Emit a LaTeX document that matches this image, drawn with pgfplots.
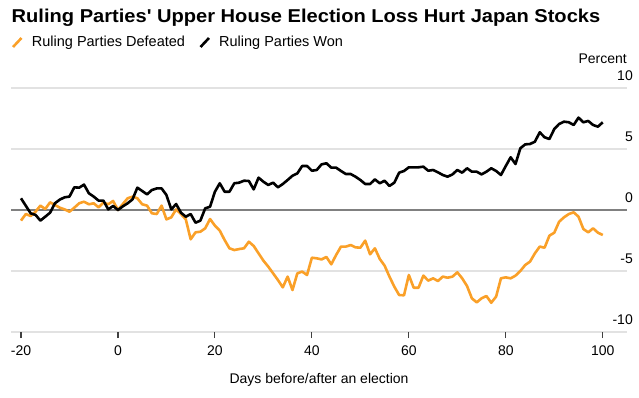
\documentclass[border=0pt]{standalone}
\usepackage{pgfplots}
\pgfplotsset{compat=1.18}
\usepackage{fontspec}
\setmainfont{Liberation Sans}
\definecolor{orng}{RGB}{250,160,40}
\definecolor{gridc}{RGB}{226,226,226}
\definecolor{zeroc}{RGB}{128,128,128}
\begin{document}
\begin{tikzpicture}[x=1pt,y=1pt]
\path[use as bounding box] (0,0) rectangle (639,397);
\node[anchor=base west, inner sep=0pt] at (11.5,374.7) {\scalebox{1.08}[1]{\fontsize{18.6}{20}\selectfont\bfseries Ruling Parties\textquotesingle{} Upper House Election Loss Hurt Japan Stocks}};
\draw[orng, line width=2.6pt] (13,350) -- (21.5,359);
\node[anchor=base west, inner sep=0pt] at (31.7,350.3) {\fontsize{14.5}{16}\selectfont Ruling Parties Defeated};
\draw[black, line width=2.6pt] (200.5,350) -- (209,359);
\node[anchor=base west, inner sep=0pt] at (219,350.3) {\fontsize{14.5}{16}\selectfont Ruling Parties Won};
\node[anchor=base east, inner sep=0pt] at (627,333) {\fontsize{14}{16}\selectfont Percent};
\begin{axis}[at={(11pt,65pt)}, anchor=south west, scale only axis,
  width=616pt, height=244pt,
  xmin=-22.06, xmax=105, ymin=-10, ymax=10,
  axis line style={draw=none},
  xtick={-20,0,20,40,60,80,100},
  xticklabels={-20,0,20,40,60,80,100},
  ytick={-10,-5,0,5,10},
  yticklabels={-10,-5,0,5,10},
  tick align=outside, major tick length=6pt,
  xtick pos=bottom, yticklabel pos=right,
  xtick style={draw=black!75, line width=1.1pt},
  ytick style={draw=none},
  ymajorgrids, major grid style={gridc, line width=1.6pt},
  xticklabel style={anchor=base, inner sep=0pt, yshift=-17pt, font=\fontsize{14}{16}\selectfont},
  yticklabel style={anchor=base east, inner sep=0pt, yshift=7.3pt, font=\fontsize{14}{16}\selectfont},
  xlabel={Days before/after an election},
  xlabel style={anchor=base, inner sep=0pt, at={(axis description cs:0.5,0)}, yshift=-51pt, font=\fontsize{14}{16}\selectfont},
  clip=false,
]
\addplot[zeroc, line width=2pt] coordinates {(-22.06,0) (105,0)};
\addplot[orng, line width=2.6pt, line join=round] coordinates {
(-20,-0.87) (-19,-0.33) (-18,-0.49) (-17,-0.14) (-16,0.36) (-15,0.08) (-14,0.63) (-13,0.41)
(-12,0.19) (-11,0.05) (-10,-0.14) (-9,0.19) (-8,0.55) (-7,0.68) (-6,0.47) (-5,0.55) (-4,0.22)
(-3,0.6) (-2,0.47) (-1,0.74) (0,0) (1,0.49) (2,0.96) (3,1.09) (4,0.96) (5,0.47) (6,0.36)
(7,-0.27) (8,-0.33) (9,0.36) (10,-0.77) (11,-0.6) (12,0.05) (13,-0.33) (14,-0.77) (15,-2.40)
(16,-1.83) (17,-1.78) (18,-1.5) (19,-0.74) (20,-1.28) (21,-1.69) (22,-2.46) (23,-3.14)
(24,-3.28) (25,-3.2) (26,-3.14) (27,-2.6) (28,-2.95) (29,-3.55) (30,-4.15) (31,-4.64)
(32,-5.19) (33,-5.74) (34,-6.34) (35,-5.46) (36,-6.56) (37,-5.19) (38,-5.05) (39,-5.33)
(40,-3.91) (41,-3.96) (42,-4.05) (43,-3.85) (44,-4.45) (45,-3.69) (46,-3.0) (47,-3.0)
(48,-2.87) (49,-3.06) (50,-3.09) (51,-2.51) (52,-3.63) (53,-3.14) (54,-4.01) (55,-4.56)
(56,-5.46) (57,-6.28) (58,-6.97) (59,-6.99) (60,-5.33) (61,-6.37) (62,-6.37) (63,-5.38)
(64,-5.79) (65,-5.6) (66,-5.82) (67,-5.46) (68,-5.55) (69,-5.46) (70,-5.11) (71,-5.6)
(72,-6.23) (73,-7.24) (74,-7.57) (75,-7.24) (76,-7.05) (77,-7.6) (78,-7.1) (79,-5.6)
(80,-5.52) (81,-5.6) (82,-5.38) (83,-5.0) (84,-4.51) (85,-4.23) (86,-3.55) (87,-3.0)
(88,-3.09) (89,-2.1) (90,-1.86) (91,-0.96) (92,-0.6) (93,-0.33) (94,-0.19) (95,-0.55)
(96,-1.56) (97,-1.83) (98,-1.5) (99,-1.86) (100,-2.05)
};
\addplot[black, line width=2.6pt, line join=round] coordinates {
(-20,0.96) (-18,-0.27) (-17,-0.4) (-16,-0.87) (-15,-0.55) (-14,-0.22) (-13,0.55) (-12,0.85)
(-11,1.04) (-10,1.1) (-9,1.86) (-8,1.83) (-7,2.08) (-6,1.37) (-5,1.1) (-4,0.77) (-3,0.77)
(-2,0.05) (-1,0.33) (0,0) (1,0.3) (2,0.55) (3,0.87) (4,1.83) (5,1.56) (6,1.28) (7,1.64)
(8,1.77) (9,1.77) (10,1.23) (11,0.05) (12,0.49) (13,-0.22) (14,-0.55) (15,-0.33) (16,-1.04)
(17,-0.87) (18,0.14) (19,0.27) (20,1.5) (21,2.19) (22,1.5) (23,1.5) (24,2.19) (25,2.24)
(26,2.4) (27,2.38) (28,1.69) (29,2.65) (30,2.32) (31,2.05) (32,2.24) (33,1.86) (34,2.13)
(35,2.46) (36,2.81) (37,3.0) (38,3.61) (39,3.61) (40,3.22) (41,3.28) (42,3.74) (43,3.83)
(44,3.47) (45,3.47) (46,3.2) (47,2.95) (48,2.95) (49,2.73) (50,2.46) (51,2.13) (52,2.13)
(53,2.51) (54,2.19) (55,2.4) (56,1.97) (57,2.24) (58,3.06) (59,3.2) (60,3.5) (61,3.5)
(62,3.5) (63,3.55) (64,3.22) (65,3.28) (66,3.09) (67,2.87) (68,2.73) (69,2.92) (70,3.28)
(71,3.06) (72,3.42) (73,3.14) (74,3.14) (75,2.92) (76,3.14) (77,3.42) (78,3.2) (79,2.87)
(80,3.61) (81,4.32) (82,3.77) (83,5.06) (84,5.38) (85,5.41) (86,5.6) (87,6.37) (88,5.96)
(89,5.82) (90,6.64) (91,7.05) (92,7.24) (93,7.19) (94,6.97) (95,7.57) (96,7.19) (97,7.3)
(98,6.97) (99,6.83) (100,7.19)
};
\end{axis}
\end{tikzpicture}
\end{document}
